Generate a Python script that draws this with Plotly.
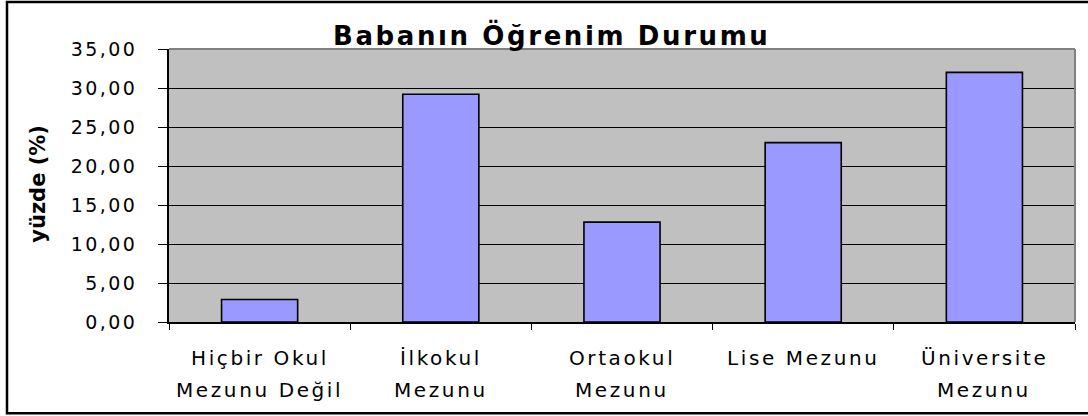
import plotly.graph_objects as go

# ---- data ----
categories = ["Hiçbir Okul Mezunu Değil", "İlkokul Mezunu", "Ortaokul Mezunu",
              "Lise Mezunu", "Üniversite Mezunu"]
label_line1 = ["Hiçbir Okul", "İlkokul", "Ortaokul", "Lise Mezunu", "Üniversite"]
label_line2 = ["Mezunu Değil", "Mezunu", "Mezunu", "", "Mezunu"]
values = [2.88, 29.2, 12.8, 23.0, 32.0]
y_tick_values = [0, 5, 10, 15, 20, 25, 30, 35]
y_tick_labels = ["0,00", "5,00", "10,00", "15,00", "20,00", "25,00", "30,00", "35,00"]
title_text = "Babanın Öğrenim Durumu"
y_title = "yüzde (%)"

FONT = "DejaVu Sans"
W, H = 1088, 416
L, R, T, B = 169, 13, 49, 93.5
pw = W - L - R
ph = H - T - B


def px_x(x):
    return (x - L) / pw


def px_y(y):
    return (H - B - y) / ph


def spaced(s, ls):
    return f"<span style='letter-spacing:{ls}px'>{s}</span>"


fig = go.Figure()
fig.add_trace(go.Bar(
    x=categories, y=values,
    marker=dict(color="#9999FF", line=dict(color="black", width=1.6)),
    hoverinfo="x+y",
))

annotations = []
for c, l1, l2 in zip(categories, label_line1, label_line2):
    annotations.append(dict(
        x=c, xref="x", y=px_y(359), yref="paper", text=spaced(l1, 2.6),
        showarrow=False, xanchor="center", yanchor="middle",
        font=dict(family=FONT, size=20, color="black")))
    if l2:
        annotations.append(dict(
            x=c, xref="x", y=px_y(391), yref="paper", text=spaced(l2, 2.6),
            showarrow=False, xanchor="center", yanchor="middle",
            font=dict(family=FONT, size=20, color="black")))

annotations.append(dict(
    x=px_x(38), xref="paper", y=px_y(184), yref="paper",
    text=f"<b>{y_title}</b>", textangle=-90, showarrow=False,
    xanchor="center", yanchor="middle",
    font=dict(family=FONT, size=21, color="black")))

annotations.append(dict(
    x=px_x(551), xref="paper", y=px_y(35), yref="paper",
    text=f"<b>{spaced(title_text, 2.6)}</b>", showarrow=False,
    xanchor="center", yanchor="middle",
    font=dict(family=FONT, size=26, color="black")))

shapes = [
    # outer chart frame
    dict(type="rect", xref="paper", yref="paper",
         x0=px_x(7), x1=px_x(1092), y0=px_y(414), y1=px_y(2),
         line=dict(color="black", width=2.5), fillcolor="rgba(0,0,0,0)", layer="above"),
    # plot area border (top / right) in gray
    dict(type="line", xref="paper", yref="paper", x0=0, x1=1, y0=1, y1=1,
         line=dict(color="#808080", width=2), layer="above"),
    dict(type="line", xref="paper", yref="paper", x0=1, x1=1, y0=0, y1=1,
         line=dict(color="#808080", width=2), layer="above"),
]

fig.update_layout(
    width=W, height=H,
    margin=dict(l=L, r=R, t=T, b=B, pad=0),
    paper_bgcolor="white",
    plot_bgcolor="#C0C0C0",
    bargap=0.58,
    showlegend=False,
    annotations=annotations,
    shapes=shapes,
    font=dict(family=FONT, color="black"),
)

fig.update_xaxes(
    type="category", showgrid=False, showline=True, linecolor="black", linewidth=2,
    ticks="outside", tickson="boundaries", ticklen=6, tickcolor="black", tickwidth=1,
    showticklabels=False, zeroline=False,
)
fig.update_yaxes(
    range=[0, 35], tickvals=y_tick_values,
    ticktext=[spaced(t, 2.4) for t in y_tick_labels],
    showgrid=True, gridcolor="black", gridwidth=1,
    showline=True, linecolor="black", linewidth=2,
    ticks="outside", ticklen=9, tickcolor="black", tickwidth=1,
    ticklabelstandoff=17, zeroline=False,
    tickfont=dict(family=FONT, size=19, color="black"),
)

fig.write_html("out.html", config={"displayModeBar": False},
               post_script="document.body.style.margin='0';document.body.style.overflow='hidden';")
